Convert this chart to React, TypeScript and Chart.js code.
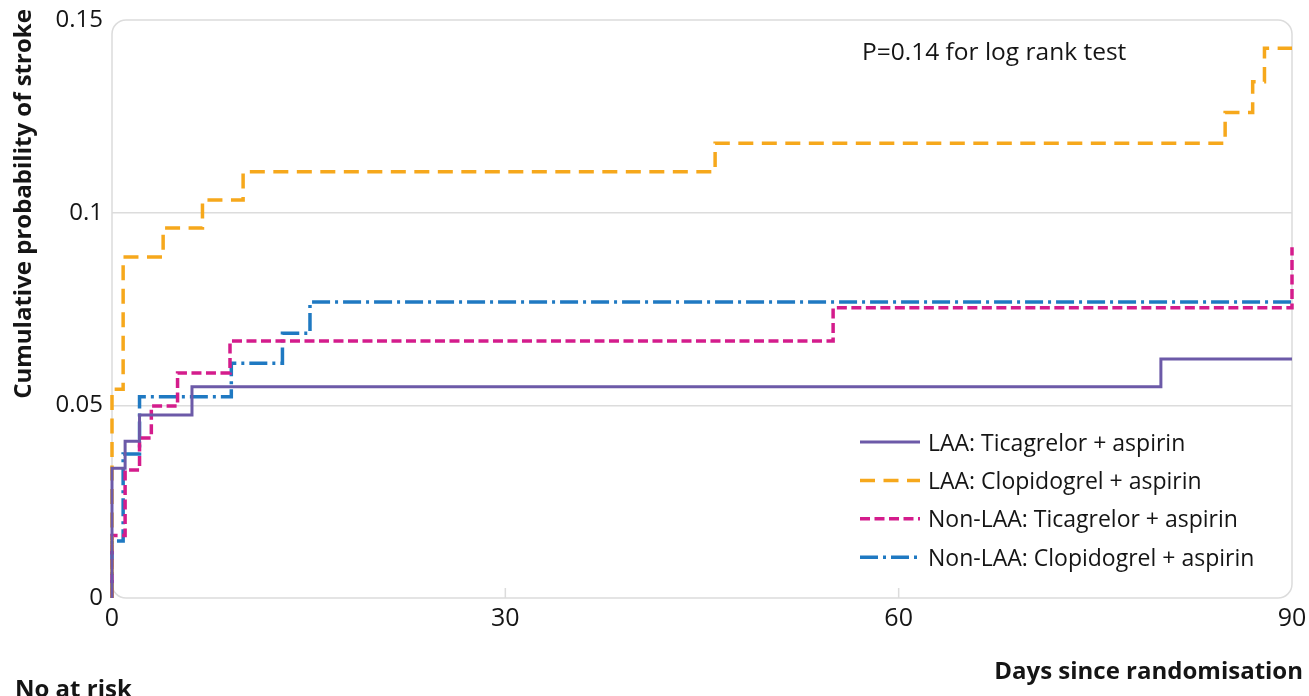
import React, { useEffect, useRef } from "react";
import { Chart, registerables } from "chart.js";

Chart.register(...registerables);

const laaTicaDays = [0, 0, 1, 2.1, 6.1, 80, 90];
const laaTicaProb = [0, 0.0337, 0.0407, 0.0475, 0.0548, 0.062, 0.062];

const laaClopDays = [0, 0, 0.85, 3.9, 6.9, 10, 46, 84.9, 87, 87.9, 90];
const laaClopProb = [0, 0.0542, 0.0885, 0.096, 0.1033, 0.1106, 0.118, 0.126, 0.134, 0.1427, 0.1427];

const nonLaaTicaDays = [0, 0, 1, 2.1, 3, 5, 9, 55, 90, 90];
const nonLaaTicaProb = [0, 0.0162, 0.0332, 0.0415, 0.0498, 0.0584, 0.0667, 0.0753, 0.0753, 0.091];

const nonLaaClopDays = [0, 0, 0.85, 2.1, 9.1, 13, 15.1, 90];
const nonLaaClopProb = [0, 0.0148, 0.0374, 0.0522, 0.0609, 0.0687, 0.0768, 0.0768];

const seriesLabels = [
  "LAA: Ticagrelor + aspirin",
  "LAA: Clopidogrel + aspirin",
  "Non-LAA: Ticagrelor + aspirin",
  "Non-LAA: Clopidogrel + aspirin",
];

const xTicks = [0, 30, 60, 90];
const xTickLabels = ["0", "30", "60", "90"];
const yTicks = [0, 0.05, 0.1, 0.15];
const yTickLabels = ["0", "0.05", "0.1", "0.15"];

const yTitle = "Cumulative probability of stroke";
const xTitle = "Days since randomisation";
const pValueText = "P=0.14 for log rank test";
const atRiskText = "No at risk";

// ---- Styles ----
const FONT = "'Open Sans', 'DejaVu Sans', sans-serif";
const TEXT = "#151515";
const GRID = "#dcdcdc";
const colors = ["#6C5AA8", "#F6A81C", "#D41C8C", "#1F79C2"];
const dashes: number[][] = [[], [15, 8.5], [10, 4.5], [18, 5, 3, 5]];
const widths = [3, 3.5, 3.5, 3.5];

const toPoints = (days: number[], probs: number[]) =>
  days.map((d, i) => ({ x: d, y: probs[i] }));

const decorPlugin = {
  id: "decor",
  beforeDatasetsDraw(chart: any) {
    const { ctx, chartArea: ca } = chart;
    const xs = chart.scales.x;
    ctx.save();
    // rounded plot frame
    const r = 14;
    ctx.strokeStyle = GRID;
    ctx.lineWidth = 1.5;
    ctx.beginPath();
    ctx.moveTo(ca.left + r, ca.top);
    ctx.lineTo(ca.right - r, ca.top);
    ctx.arcTo(ca.right, ca.top, ca.right, ca.top + r, r);
    ctx.lineTo(ca.right, ca.bottom - r);
    ctx.arcTo(ca.right, ca.bottom, ca.right - r, ca.bottom, r);
    ctx.lineTo(ca.left + r, ca.bottom);
    ctx.arcTo(ca.left, ca.bottom, ca.left, ca.bottom - r, r);
    ctx.lineTo(ca.left, ca.top + r);
    ctx.arcTo(ca.left, ca.top, ca.left + r, ca.top, r);
    ctx.closePath();
    ctx.stroke();
    // inner tick marks on x axis
    xTicks.forEach((v) => {
      if (v === xTicks[0] || v === xTicks[xTicks.length - 1]) return;
      const px = xs.getPixelForValue(v);
      ctx.beginPath();
      ctx.moveTo(px, ca.bottom);
      ctx.lineTo(px, ca.bottom - 10);
      ctx.stroke();
    });
    ctx.restore();
  },
  afterDraw(chart: any) {
    const { ctx, chartArea: ca } = chart;
    ctx.save();
    ctx.fillStyle = TEXT;

    // p-value annotation
    ctx.font = `24.5px ${FONT}`;
    ctx.textAlign = "left";
    ctx.textBaseline = "alphabetic";
    ctx.fillText(pValueText, ca.right - 430, 60);

    // legend
    const lx0 = ca.right - 432;
    const lx1 = lx0 + 60;
    const ly0 = ca.bottom - 156;
    const step = 38.4;
    seriesLabels.forEach((lab, i) => {
      const y = ly0 + i * step;
      ctx.save();
      ctx.strokeStyle = colors[i];
      ctx.lineWidth = widths[i];
      ctx.setLineDash(dashes[i]);
      ctx.beginPath();
      ctx.moveTo(lx0, y);
      ctx.lineTo(lx1, y);
      ctx.stroke();
      ctx.restore();
      ctx.font = `23px ${FONT}`;
      ctx.fillStyle = TEXT;
      ctx.textAlign = "left";
      ctx.textBaseline = "middle";
      ctx.fillText(lab, lx1 + 8, y + 2);
    });

    // y title
    ctx.save();
    ctx.font = `bold 24px ${FONT}`;
    ctx.translate(24, 204);
    ctx.rotate(-Math.PI / 2);
    ctx.textAlign = "center";
    ctx.textBaseline = "middle";
    ctx.fillText(yTitle, 0, 0);
    ctx.restore();

    // x title
    ctx.font = `bold 24px ${FONT}`;
    ctx.textAlign = "right";
    ctx.textBaseline = "alphabetic";
    ctx.fillText(xTitle, 1303, 679);

    // No at risk (cut by the bottom edge, as in the reference)
    ctx.textAlign = "left";
    ctx.fillText(atRiskText, 15, 697);
    ctx.restore();
  },
};

export default function App() {
  const ref = useRef<HTMLCanvasElement>(null);

  useEffect(() => {
    const seriesDays = [laaTicaDays, laaClopDays, nonLaaTicaDays, nonLaaClopDays];
    const seriesProbs = [laaTicaProb, laaClopProb, nonLaaTicaProb, nonLaaClopProb];
    const chart = new Chart(ref.current as HTMLCanvasElement, {
      type: "line",
      data: {
        datasets: seriesLabels.map((label, i) => ({
          label,
          data: toPoints(seriesDays[i], seriesProbs[i]),
          borderColor: colors[i],
          backgroundColor: colors[i],
          borderWidth: widths[i],
          borderDash: dashes[i],
          borderCapStyle: "butt",
          borderJoinStyle: "miter",
          stepped: "before",
          pointRadius: 0,
          pointHoverRadius: 0,
          fill: false,
          tension: 0,
          clip: 8,
        })),
      },
      options: {
        animation: false,
        responsive: true,
        maintainAspectRatio: false,
        events: [],
        layout: { padding: { left: 0, right: 17, top: 20, bottom: 0 } },
        plugins: {
          legend: { display: false },
          tooltip: { enabled: false },
          title: { display: false },
        },
        scales: {
          x: {
            type: "linear",
            min: 0,
            max: 90,
            afterBuildTicks: (s: any) => {
              s.ticks = xTicks.map((v) => ({ value: v }));
            },
            afterFit: (s: any) => {
              s.height = 98;
              s.paddingLeft = 0;
              s.paddingRight = 0;
            },
            ticks: {
              autoSkip: false,
              maxRotation: 0,
              padding: 6,
              color: TEXT,
              font: { family: FONT, size: 25 },
              callback: (_v: any, i: number) => xTickLabels[i],
            },
            grid: { display: false, drawTicks: false },
            border: { display: false },
          },
          y: {
            type: "linear",
            min: 0,
            max: 0.15,
            afterBuildTicks: (s: any) => {
              s.ticks = yTicks.map((v) => ({ value: v }));
            },
            afterFit: (s: any) => {
              s.width = 112;
              s.paddingTop = 0;
              s.paddingBottom = 0;
            },
            ticks: {
              autoSkip: false,
              padding: 9,
              color: TEXT,
              font: { family: FONT, size: 24 },
              callback: (_v: any, i: number) => yTickLabels[i],
            },
            grid: {
              drawTicks: false,
              lineWidth: 1.5,
              color: (c: any) =>
                c.tick && c.tick.value > 0 && c.tick.value < 0.15 ? GRID : "rgba(0,0,0,0)",
            },
            border: { display: false },
          },
        },
      } as any,
      plugins: [decorPlugin],
    });
    return () => chart.destroy();
  }, []);

  return (
    <div
      style={{
        position: "absolute",
        left: 0,
        top: 0,
        width: 1309,
        height: 696,
        background: "#fff",
        overflow: "hidden",
      }}
    >
      <canvas ref={ref} />
    </div>
  );
}
